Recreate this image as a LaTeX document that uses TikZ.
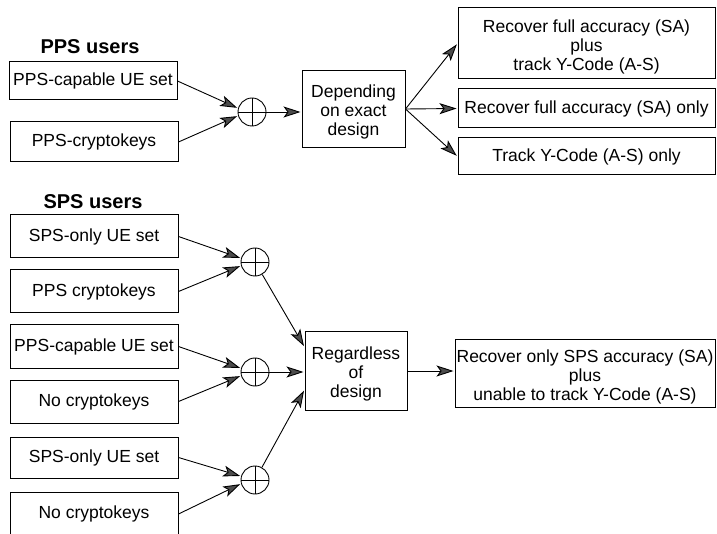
\documentclass[tikz,border=0pt]{standalone}
\usepackage{fontspec}
\setmainfont{Liberation Sans}
\usetikzlibrary{arrows.meta,calc}
\newcommand{\mltext}[1]{\raisebox{-4pt}[\height][\depth]{\begin{tabular}{@{}c@{}}#1\end{tabular}}}
\tikzset{
  box/.style={draw=black,line width=1pt,rectangle,inner sep=0pt,align=center,
    font=\fontsize{17.5}{19}\selectfont},
  title/.style={font=\fontsize{20}{22}\selectfont\bfseries},
  xor/.style={draw=black,line width=0.9pt,circle,minimum size=28pt,inner sep=0pt,
    path picture={\draw[line width=0.7pt] (path picture bounding box.north) -- (path picture bounding box.south)
      (path picture bounding box.west) -- (path picture bounding box.east);}},
  mytip/.tip={Stealth[length=17pt,width=11pt,inset=4pt,fill=black!70]},
  conn/.style={line width=0.9pt,-mytip,shorten >=1pt}
}
\begin{document}
\begin{tikzpicture}[x=1pt,y=-1pt]
\path[use as bounding box] (0,0) rectangle (717,534);
\clip (0,0) rectangle (717,534);

% titles
\node[title] (tp) at (90,47) {PPS users};
\node[title] (ts) at (93,202) {SPS users};

% PPS inputs
\node[box,minimum width=168pt,minimum height=38pt] (A1) at (93,81) {PPS-capable UE set};
\node[box,minimum width=168pt,minimum height=40pt] (A2) at (94,142) {PPS-cryptokeys};
\node[xor] (C1) at (252,112) {};
\node[box,minimum width=103pt,minimum height=77pt] (Dep) at (353.5,109) {\mltext{Depending\\on exact\\design}};

% PPS outcomes
\node[box,minimum width=257pt,minimum height=71pt] (R1) at (586.5,43.5) {\mltext{Recover full accuracy (SA)\\plus\\track Y-Code (A-S)}};
\node[box,minimum width=257pt,minimum height=39pt] (R2) at (586.5,108.5) {Recover full accuracy (SA) only};
\node[box,minimum width=257pt,minimum height=37pt] (R3) at (586.5,156.5) {Track Y-Code (A-S) only};

% SPS inputs
\node[box,minimum width=168pt,minimum height=43pt] (B1) at (94,236.5) {SPS-only UE set};
\node[box,minimum width=168pt,minimum height=43pt] (B2) at (94,291.5) {PPS cryptokeys};
\node[box,minimum width=168pt,minimum height=43pt] (B3) at (94,346.5) {PPS-capable UE set};
\node[box,minimum width=168pt,minimum height=43pt] (B4) at (94,401.5) {No cryptokeys};
\node[box,minimum width=168pt,minimum height=41pt] (B5) at (94,457.5) {SPS-only UE set};
\node[box,minimum width=168pt,minimum height=44pt] (B6) at (94,514) {No cryptokeys};

\node[xor] (C2) at (255,262) {};
\node[xor] (C3) at (255,372) {};
\node[xor] (C4) at (255,480) {};

\node[box,minimum width=102pt,minimum height=78pt] (Reg) at (356,371) {\mltext{Regardless\\of\\design}};
\node[box,minimum width=260pt,minimum height=68pt] (Fin) at (585,373.5) {\mltext{Recover only SPS accuracy (SA)\\plus\\unable to track Y-Code (A-S)}};

% connectors PPS
\draw[conn] (A1.east) -- (C1.165);
\draw[conn] (A2.east) -- (C1.195);
\draw[conn] (C1.east) -- (C1.east -| Dep.west);
\draw[conn] (Dep.east) -- (R1.west);
\draw[conn] (Dep.east) -- (R2.west);
\draw[conn] (Dep.east) -- (R3.west);

% connectors SPS
\draw[conn] (B1.east) -- (C2.165);
\draw[conn] (B2.east) -- (C2.195);
\draw[conn] (B3.east) -- (C3.165);
\draw[conn] (B4.east) -- (C3.195);
\draw[conn] (B5.east) -- (C4.165);
\draw[conn] (B6.east) -- (C4.195);
\draw[conn] (C2) -- (Reg.155);
\draw[conn] (C3) -- (C3 -| Reg.west);
\draw[conn] (C4) -- (Reg.200);
\draw[conn] (Reg.east) -- (Reg.east -| Fin.west);
\end{tikzpicture}
\end{document}
